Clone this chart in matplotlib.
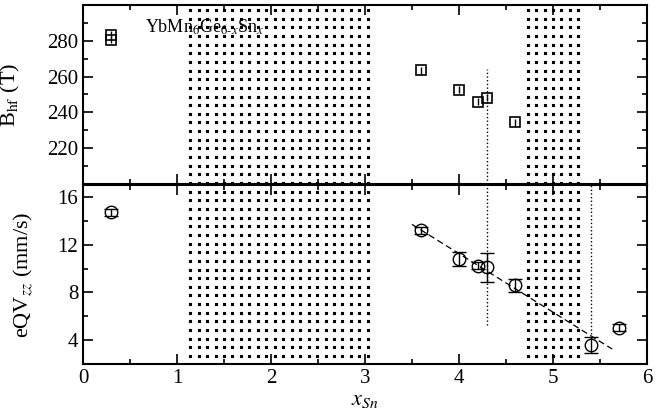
import numpy as np
import matplotlib
matplotlib.use("Agg")
from matplotlib import pyplot as plt

plt.rcParams['font.family'] = ['Liberation Serif', 'DejaVu Serif']
plt.rcParams['mathtext.fontset'] = 'stix'

# hyperfine field (top panel)
x_b = [0.3, 0.3, 3.6, 4.0, 4.2, 4.3, 4.6]
bhf = [283.5, 280.5, 263.5, 252.7, 246.0, 248.2, 234.5]
bhf_err = [2.0, 2.0, 2.0, 2.0, 2.0, 2.0, 2.0]

# quadrupole splitting (bottom panel)
x_q = [0.3, 3.6, 4.0, 4.2, 4.3, 4.6, 5.4, 5.7]
eqv = [14.7, 13.2, 10.8, 10.25, 10.1, 8.6, 3.6, 5.05]
eqv_err = [0.3, 0.3, 0.62, 0.3, 1.2, 0.55, 0.7, 0.3]

# linear guide
fit_x = [3.5, 5.63]
fit_y = [13.7, 3.25]

# two-phase regions (dotted)
regions = [(1.14, 3.1), (4.73, 5.3)]

# vertical dotted markers
vline_top = [(4.3, 200, 264)]
vline_bot = [(4.3, 5.25, 17), (5.4, 4.5, 17)]

fig = plt.figure(figsize=(6.69, 4.19), dpi=100)
L, W = 83 / 669, 564 / 669
b_bot, b_top, h = 55 / 419, 235 / 419, 179 / 419

# dot pattern layer spanning both panels (pixel units in y)
bg = fig.add_axes([L, b_bot, W, 359 / 419], zorder=0)
bg.set_xlim(0, 6)
bg.set_ylim(0, 359)
bg.axis('off')
rows = np.arange(8, 356, 8.65)
for x0, x1 in regions:
    cols = np.arange(x0, x1 + 0.01, 0.09)
    gx, gy = np.meshgrid(cols, rows)
    bg.scatter(gx.ravel(), gy.ravel(), s=5.0, marker='s', color='black',
               linewidths=0, antialiased=True, snap=False)

ax1 = fig.add_axes([L, b_top, W, h], zorder=1)
ax2 = fig.add_axes([L, b_bot, W, h], zorder=1)
for ax in (ax1, ax2):
    ax.patch.set_alpha(0)
    for s in ax.spines.values():
        s.set_linewidth(1.5)
    ax.set_xlim(0, 6)
    ax.set_xticks(np.arange(0, 7, 1))
    ax.set_xticks(np.arange(0, 6, 0.5), minor=True)
    ax.tick_params(which='both', direction='in', top=True, right=True, width=1.2, labelsize=15)
    ax.tick_params(which='major', length=7)
    ax.tick_params(which='minor', length=3.5)

ax1.errorbar(x_b, bhf, yerr=bhf_err, fmt='s', mfc='none', mec='black', ecolor='black',
             ms=7, mew=1.2, elinewidth=1.0, capsize=0)
for x, y0, y1 in vline_top:
    ax1.plot([x, x], [y0, y1], ':', color='black', lw=1.0)
ax1.set_ylim(200, 300)
ax1.set_yticks([220, 240, 260, 280])
ax1.set_yticks(np.arange(200, 300, 10), minor=True)
ax1.tick_params(labelbottom=False)
ax1.set_ylabel(r'B$_{\rm hf}$ (T)', fontsize=16)
ax1.yaxis.set_label_coords(-0.108, 0.5)
ax1.text(0.66, 287.5, r'YbMn$_6$Ge$_{6\text{-}x}$Sn$_x$', fontsize=13, va='center')

ax2.errorbar(x_q, eqv, yerr=eqv_err, fmt='o', mfc='none', mec='black', ecolor='black',
             ms=9, mew=1.0, elinewidth=1.0, capsize=5, capthick=1.0)
ax2.plot(fit_x, fit_y, '--', color='black', lw=0.9, dashes=(5, 3))
for x, y0, y1 in vline_bot:
    ax2.plot([x, x], [y0, y1], ':', color='black', lw=1.0)
ax2.set_ylim(2, 17)
ax2.set_yticks([4, 8, 12, 16])
ax2.set_yticks(np.arange(2, 17, 2), minor=True)
ax2.set_ylabel(r'eQV$_{zz}$ (mm/s)', fontsize=16)
ax2.yaxis.set_label_coords(-0.085, 0.5)
ax2.set_xlabel(r'$x_{Sn}$', fontsize=16, labelpad=2)

fig.savefig('out.png', dpi=100)
